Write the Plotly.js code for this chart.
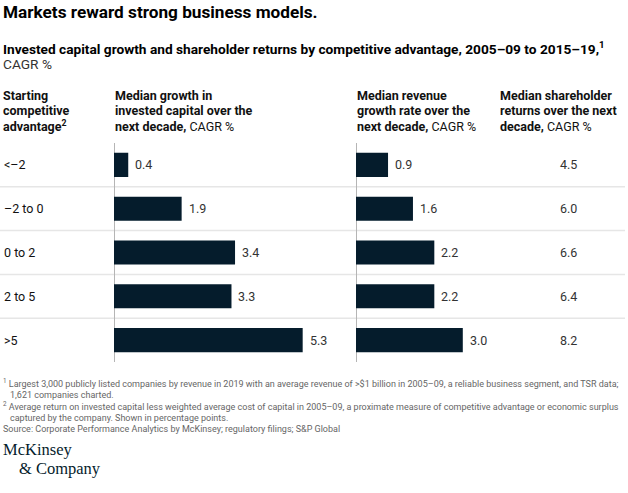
<!DOCTYPE html>
<html>
<head>
<meta charset="utf-8">
<script src="https://cdn.plot.ly/plotly-3.0.1.min.js"></script>
<style>
html,body{margin:0;padding:0;background:#fff;}
#chart{width:628px;height:493px;}
</style>
</head>
<body>
<div id="chart"></div>
<script>
// ---- Data ----
const categories = ['<–2', '–2 to 0', '0 to 2', '2 to 5', '>5'];
const investedCapitalGrowth = [0.4, 1.9, 3.4, 3.3, 5.3];
const revenueGrowth = [0.9, 1.6, 2.2, 2.2, 3.0];
const shareholderReturns = [4.5, 6.0, 6.6, 6.4, 8.2];

const titleText = 'Markets reward strong business models.';
const subtitleText = 'Invested capital growth and shareholder returns by competitive advantage, 2005–09 to 2015–19,<sup>1</sup>';
const subtitleUnit = 'CAGR %';
const headerCol1 = ['<b>Starting</b>', '<b>competitive</b>', '<b>advantage<sup>2</sup></b>'];
const headerCol2 = ['<b>Median growth in</b>', '<b>invested capital over the</b>', '<b>next decade,</b> CAGR %'];
const headerCol3 = ['<b>Median revenue</b>', '<b>growth rate over the</b>', '<b>next decade,</b> CAGR %'];
const headerCol4 = ['<b>Median shareholder</b>', '<b>returns over the next</b>', '<b>decade,</b> CAGR %'];
const footnotes = [
  '<sup>1</sup> Largest 3,000 publicly listed companies by revenue in 2019 with an average revenue of >$1 billion in 2005–09, a reliable business segment, and TSR data;',
  '1,621 companies charted.',
  '<sup>2</sup> Average return on invested capital less weighted average cost of capital in 2005–09, a proximate measure of competitive advantage or economic surplus',
  'captured by the company. Shown in percentage points.',
  'Source: Corporate Performance Analytics by McKinsey; regulatory filings; S&P Global'
];
const logoLines = ['McKinsey', '& Company'];

// ---- Layout helpers (pixel -> paper) ----
const W = 628, H = 493;
const X = px => px / W;
const Y = py => 1 - py / H;
const FONT = 'Roboto, "Liberation Sans", Arial, sans-serif';
const SERIF = '"Liberation Serif", "DejaVu Serif", serif';
const BAR = '#051c2c';

const plotTop = 143, plotBottom = 362;
const unitPx = 35.6;
const ax1Left = 114, ax2Left = 356;

const traces = [
  {type: 'bar', orientation: 'h', x: investedCapitalGrowth, y: categories,
   xaxis: 'x', yaxis: 'y', marker: {color: BAR, line: {width: 0}}, width: 0.55,
   hoverinfo: 'skip', showlegend: false},
  {type: 'bar', orientation: 'h', x: revenueGrowth, y: categories,
   xaxis: 'x2', yaxis: 'y', marker: {color: BAR, line: {width: 0}}, width: 0.55,
   hoverinfo: 'skip', showlegend: false}
];

const annotations = [];
function addText(text, xpx, ypx, size, color, family) {
  annotations.push({
    text: text, xref: 'paper', yref: 'paper', x: X(xpx), y: Y(ypx),
    xanchor: 'left', yanchor: 'middle', showarrow: false,
    font: {family: family || FONT, size: size, color: color}
  });
}

// Titles
addText('<b>' + titleText + '</b>', 1, 12, 17.2, '#000');
addText('<b>' + subtitleText + '</b>', 1, 48, 13.7, '#000');
addText(subtitleUnit, 1, 64, 13.7, '#333');

// Column headers
const headerY = [95, 110.5, 126];
[[headerCol1, 1], [headerCol2, 113], [headerCol3, 355], [headerCol4, 498]].forEach(([lines, xp]) => {
  lines.forEach((t, i) => addText(t, xp, headerY[i], 12.5, '#111'));
});

// Row labels, bar values, third-column values
categories.forEach((c, i) => {
  annotations.push({text: c, xref: 'paper', yref: 'y', x: X(2), y: c, xanchor: 'left', yanchor: 'middle',
    showarrow: false, font: {family: FONT, size: 12.5, color: '#111'}});
  annotations.push({text: investedCapitalGrowth[i].toFixed(1), xref: 'x', yref: 'y', x: investedCapitalGrowth[i], y: c,
    xanchor: 'left', yanchor: 'middle', xshift: 5, showarrow: false, font: {family: FONT, size: 12.5, color: '#333'}});
  annotations.push({text: revenueGrowth[i].toFixed(1), xref: 'x2', yref: 'y', x: revenueGrowth[i], y: c,
    xanchor: 'left', yanchor: 'middle', xshift: 5, showarrow: false, font: {family: FONT, size: 12.5, color: '#333'}});
  annotations.push({text: shareholderReturns[i].toFixed(1), xref: 'paper', yref: 'y', x: X(568), y: c,
    xanchor: 'center', yanchor: 'middle', showarrow: false, font: {family: FONT, size: 12.5, color: '#333'}});
});

// Footnotes
const footY = [383, 394.5, 406, 417.5, 429];
const footX = [1, 8, 1, 8, 1];
footnotes.forEach((t, i) => addText(t, footX[i], footY[i], 9, '#666'));

// Logo
addText(logoLines[0], 1, 449, 16.5, '#051c2c', SERIF);
addText(logoLines[1], 17, 468, 16.5, '#051c2c', SERIF);

// Separator lines between rows
const shapes = [];
for (let i = 0; i < categories.length - 1; i++) {
  shapes.push({type: 'line', xref: 'paper', yref: 'y', x0: 0, x1: X(625), y0: i + 0.5, y1: i + 0.5,
    line: {color: '#e6e6e6', width: 1.5}, layer: 'below'});
}

const layout = {
  width: W, height: H,
  margin: {l: 0, r: 0, t: 0, b: 0, pad: 0},
  paper_bgcolor: '#fff', plot_bgcolor: 'rgba(0,0,0,0)',
  showlegend: false,
  xaxis: {domain: [X(ax1Left), X(ax1Left + unitPx * 6)], range: [0, 6], showticklabels: false, showgrid: false,
    zeroline: true, zerolinecolor: '#b5b5b5', zerolinewidth: 1, fixedrange: true, ticks: ''},
  xaxis2: {domain: [X(ax2Left), X(ax2Left + unitPx * 5)], range: [0, 5], anchor: 'y', showticklabels: false, showgrid: false,
    zeroline: true, zerolinecolor: '#b5b5b5', zerolinewidth: 1, fixedrange: true, ticks: ''},
  yaxis: {type: 'category', categoryorder: 'array', categoryarray: categories, range: [4.5, -0.5],
    domain: [Y(plotBottom), Y(plotTop)], showticklabels: false, showgrid: false, zeroline: false, fixedrange: true, ticks: ''},
  annotations: annotations,
  shapes: shapes
};

Plotly.newPlot('chart', traces, layout, {displayModeBar: false, staticPlot: true});
</script>
</body>
</html>
